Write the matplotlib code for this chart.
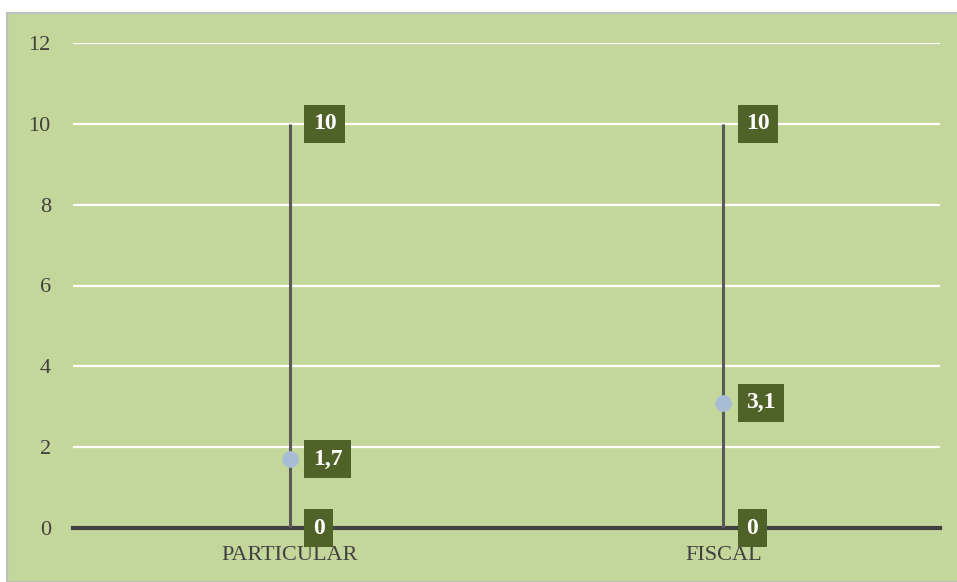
import matplotlib.pyplot as plt
from matplotlib.patches import Rectangle

# Data
categories = ['PARTICULAR', 'FISCAL']
high_values = [10, 10]
low_values = [0, 0]
mean_values = [1.7, 3.1]
y_ticks = [0, 2, 4, 6, 8, 10, 12]

bg = '#C4D79B'
label_bg = '#4F6228'
text_col = '#404040'

plt.rcParams['font.family'] = ['Liberation Serif', 'DejaVu Serif']

fig = plt.figure(figsize=(9.57, 5.82), dpi=100)
fig.patch.set_facecolor('white')
# chart area frame
frame = Rectangle((7 / 957, 0), 1, 1 - 13 / 582, transform=fig.transFigure,
                  facecolor=bg, edgecolor='#BFBFBF', linewidth=1.5, zorder=-10)
fig.add_artist(frame)

ax = fig.add_axes([73 / 957, 1 - 528 / 582, 867 / 957, (528 - 43) / 582])
ax.set_zorder(5)
ax.patch.set_alpha(0)

x = list(range(len(categories)))
ax.set_xlim(-0.5, len(categories) - 0.5)
ax.set_ylim(0, 12)

for yt in y_ticks[1:]:
    ax.axhline(yt, color='white', linewidth=1.6, zorder=1)
ax.axhline(0, color='#404040', linewidth=3, zorder=2, clip_on=False)

# high-low lines
ax.vlines(x, low_values, high_values, color='#595959', linewidth=2.2, zorder=3)
ax.plot(x, mean_values, 'o', color='#A9BCD5', markersize=11, zorder=4, clip_on=False)

def put_label(xv, yv, txt):
    ax.annotate(txt, (xv, yv), xytext=(23, 0), textcoords='offset pixels',
                ha='left', va='center', color='white', fontsize=17, fontweight='bold',
                bbox=dict(boxstyle='square,pad=0.36', fc=label_bg, ec='none'),
                zorder=5, annotation_clip=False)

for i in x:
    put_label(i, high_values[i], str(high_values[i]))
    put_label(i, mean_values[i], str(mean_values[i]).replace('.', ','))
    put_label(i, low_values[i], str(low_values[i]))

ax.set_xticks(x)
ax.set_xticklabels(categories)
ax.set_yticks(y_ticks)
ax.tick_params(axis='both', length=0, colors=text_col, labelsize=16)
ax.tick_params(axis='y', pad=16)
ax.tick_params(axis='x', pad=13)
for s in ax.spines.values():
    s.set_visible(False)

fig.savefig('out.png', dpi=100)
